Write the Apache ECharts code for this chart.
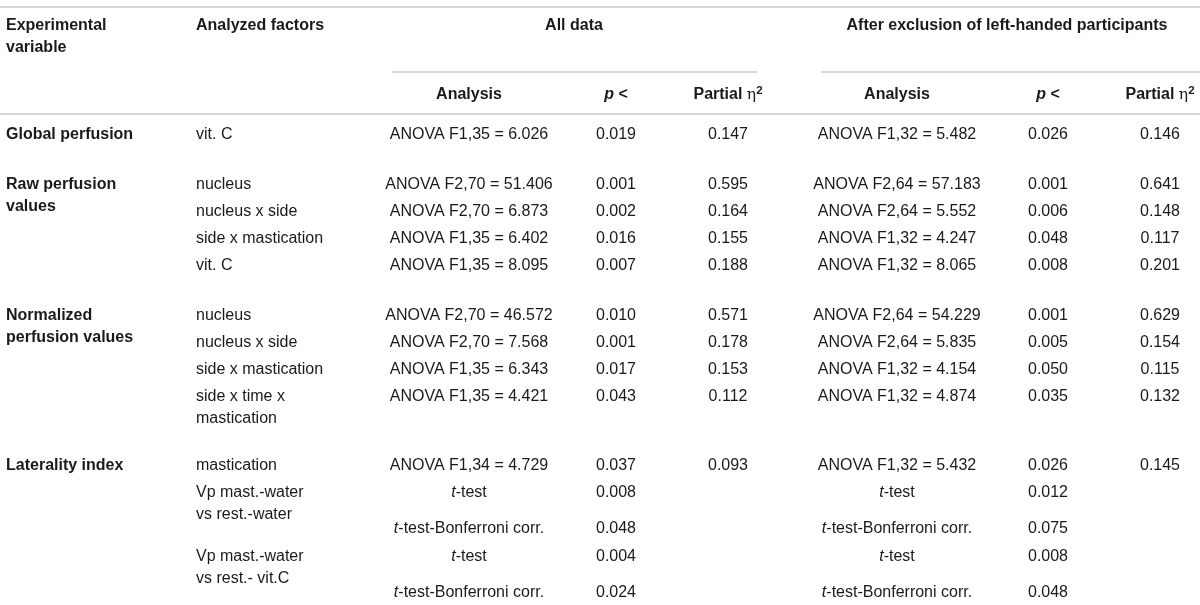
<!DOCTYPE html>
<html>
<head>
<meta charset="utf-8">
<script src="https://cdn.jsdelivr.net/npm/echarts@6/dist/echarts.min.js"></script>
<style>
html,body{margin:0;padding:0;background:#fff;}
#chart{width:1200px;height:605px;}
</style>
</head>
<body>
<div id="chart"></div>
<script>
// ---------- DATA ----------
const variables = ['Global perfusion', 'Raw perfusion\nvalues', 'Normalized\nperfusion values', 'Laterality index'];
const variableFirstRow = [0, 1, 5, 9];
const factors = ['vit. C', 'nucleus', 'nucleus x side', 'side x mastication', 'vit. C',
  'nucleus', 'nucleus x side', 'side x mastication', 'side x time x\nmastication',
  'mastication', 'Vp mast.-water\nvs rest.-water', '', 'Vp mast.-water\nvs rest.- vit.C', ''];
const analysisAll = ['ANOVA F1,35 = 6.026', 'ANOVA F2,70 = 51.406', 'ANOVA F2,70 = 6.873', 'ANOVA F1,35 = 6.402', 'ANOVA F1,35 = 8.095',
  'ANOVA F2,70 = 46.572', 'ANOVA F2,70 = 7.568', 'ANOVA F1,35 = 6.343', 'ANOVA F1,35 = 4.421',
  'ANOVA F1,34 = 4.729', 't-test', 't-test-Bonferroni corr.', 't-test', 't-test-Bonferroni corr.'];
const pAll = [0.019, 0.001, 0.002, 0.016, 0.007, 0.010, 0.001, 0.017, 0.043, 0.037, 0.008, 0.048, 0.004, 0.024];
const etaAll = [0.147, 0.595, 0.164, 0.155, 0.188, 0.571, 0.178, 0.153, 0.112, 0.093, null, null, null, null];
const analysisExcl = ['ANOVA F1,32 = 5.482', 'ANOVA F2,64 = 57.183', 'ANOVA F2,64 = 5.552', 'ANOVA F1,32 = 4.247', 'ANOVA F1,32 = 8.065',
  'ANOVA F2,64 = 54.229', 'ANOVA F2,64 = 5.835', 'ANOVA F1,32 = 4.154', 'ANOVA F1,32 = 4.874',
  'ANOVA F1,32 = 5.432', 't-test', 't-test-Bonferroni corr.', 't-test', 't-test-Bonferroni corr.'];
const pExcl = [0.026, 0.001, 0.006, 0.048, 0.008, 0.001, 0.005, 0.050, 0.035, 0.026, 0.012, 0.075, 0.008, 0.048];
const etaExcl = [0.146, 0.641, 0.148, 0.117, 0.201, 0.629, 0.154, 0.115, 0.132, 0.145, null, null, null, null];
const headerTop = ['Experimental\nvariable', 'Analyzed factors', 'All data', 'After exclusion of left-handed participants'];
const headerSub = ['Analysis', '{bi|p} <', 'Partial {eta|η}{sup|2}'];

// ---------- LAYOUT ----------
const colX = { variable: 6, factor: 196, anaAll: 469, pAll: 616, etaAll: 728, anaExcl: 897, pExcl: 1048, etaExcl: 1160 };
const groupX = { all: 574, excl: 1007 };
const headerY = { top: 26, sub: 95 };
const rowY = [135, 185, 212, 239, 266, 316, 343, 370, 397, 466, 493, 529, 557, 593];
const lineH = 21.5;
const rules = [
  { x1: 0, x2: 1200, y: 7 },
  { x1: 392, x2: 757, y: 72 },
  { x1: 821, x2: 1200, y: 72 },
  { x1: 0, x2: 1200, y: 114 }
];
const FONT = 'Liberation Sans';
const FS = 16;
const TXT = '#1a1a1a';

// ---------- BUILD ----------
const textItems = [];
function italicT(s) { return s.replace(/^t-/, '{it|t}-'); }
function addText(x, y, text, align, bold) {
  if (text === null || text === undefined || text === '') return;
  String(text).split('\n').forEach((line, i) => {
    textItems.push({
      value: [x, y + i * lineH],
      label: { formatter: line, align: align, fontWeight: bold ? 'bold' : 'normal' }
    });
  });
}
const fmt = v => (v === null ? '' : v.toFixed(3));

addText(colX.variable, headerY.top, headerTop[0], 'left', true);
addText(colX.factor, headerY.top, headerTop[1], 'left', true);
addText(groupX.all, headerY.top, headerTop[2], 'center', true);
addText(groupX.excl, headerY.top, headerTop[3], 'center', true);
[[colX.anaAll, colX.pAll, colX.etaAll], [colX.anaExcl, colX.pExcl, colX.etaExcl]].forEach(cols => {
  cols.forEach((cx, k) => addText(cx, headerY.sub, headerSub[k], 'center', true));
});
variables.forEach((v, g) => addText(colX.variable, rowY[variableFirstRow[g]], v, 'left', true));
rowY.forEach((y, r) => {
  addText(colX.factor, y, factors[r], 'left', false);
  addText(colX.anaAll, y, italicT(analysisAll[r]), 'center', false);
  addText(colX.pAll, y, fmt(pAll[r]), 'center', false);
  addText(colX.etaAll, y, fmt(etaAll[r]), 'center', false);
  addText(colX.anaExcl, y, italicT(analysisExcl[r]), 'center', false);
  addText(colX.pExcl, y, fmt(pExcl[r]), 'center', false);
  addText(colX.etaExcl, y, fmt(etaExcl[r]), 'center', false);
});

const ruleSeries = rules.map(r => ({
  type: 'line',
  data: [[r.x1, r.y], [r.x2, r.y]],
  symbol: 'none',
  silent: true,
  animation: false,
  lineStyle: { color: '#c8c8c8', width: 1.3 }
}));

const chart = echarts.init(document.getElementById('chart'), null, { renderer: 'canvas' });
chart.setOption({
  backgroundColor: '#ffffff',
  animation: false,
  grid: { left: 0, right: 0, top: 0, bottom: 0 },
  xAxis: { type: 'value', min: 0, max: 1200, show: false },
  yAxis: { type: 'value', min: 0, max: 605, inverse: true, show: false },
  series: ruleSeries.concat([{
    type: 'scatter',
    data: textItems,
    symbolSize: 0,
    silent: true,
    animation: false,
    itemStyle: { opacity: 1 },
    label: {
      show: true,
      position: 'inside',
      verticalAlign: 'middle',
      color: TXT,
      fontFamily: FONT,
      fontSize: FS,
      rich: {
        it: { fontStyle: 'italic', fontFamily: FONT, fontSize: FS, color: TXT },
        bi: { fontStyle: 'italic', fontWeight: 'bold', fontFamily: FONT, fontSize: FS, color: TXT },
        eta: { fontFamily: 'DejaVu Serif', fontWeight: 'normal', fontSize: FS - 0.5, color: TXT },
        sup: { fontFamily: FONT, fontWeight: 'bold', fontSize: 11.5, color: TXT, verticalAlign: 'bottom', padding: [0, 0, 9, 0] }
      }
    }
  }])
});
</script>
</body>
</html>
